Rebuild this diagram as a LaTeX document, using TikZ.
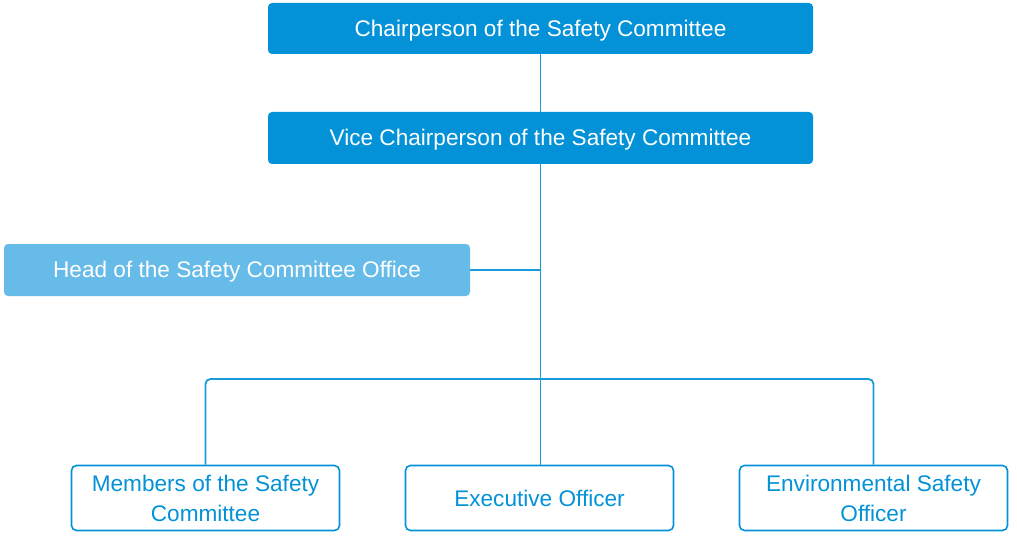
\documentclass[tikz,border=0pt]{standalone}
\usepackage{fontspec}
\setmainfont{Liberation Sans}
\definecolor{dblue}{HTML}{0392D8}
\definecolor{lblue}{HTML}{66BBE8}
\definecolor{lineblue}{HTML}{1A9AD9}
\begin{document}
\begin{tikzpicture}[x=1pt,y=-1pt,
  topbox/.style={fill=dblue,draw=none,rounded corners=4pt,text=white,font=\fontsize{22.6}{26}\selectfont,inner sep=0pt,text height=20pt,text depth=4.2pt},
  headbox/.style={fill=lblue,draw=none,rounded corners=4pt,text=white,font=\fontsize{22.6}{26}\selectfont,inner sep=0pt,text height=20pt,text depth=4.2pt},
  botbox/.style={draw=dblue,line width=1.6pt,fill=white,rounded corners=5pt,text=dblue,font=\fontsize{22.6}{30}\selectfont,align=center,inner sep=0pt},
  conn/.style={draw=lineblue,line width=1.8pt}]
\useasboundingbox (0,0) rectangle (1017,540);
\node[topbox,minimum width=545pt,minimum height=51pt] (chair) at (540.5,28.5) {Chairperson of the Safety Committee};
\node[topbox,minimum width=545pt,minimum height=52pt] (vice) at (540.5,138) {Vice Chairperson of the Safety Committee};
\node[headbox,minimum width=466pt,minimum height=52pt] (head) at (237,270) {Head of the Safety Committee Office};
\node[botbox,minimum width=268pt,minimum height=65pt] (mem) at (205.5,498) {Members of the Safety\\Committee};
\node[botbox,minimum width=268pt,minimum height=65pt] (exec) at (539.5,498) {Executive Officer};
\node[botbox,minimum width=268pt,minimum height=65pt] (env) at (873.5,498) {Environmental Safety\\Officer};
\coordinate (bus) at (540.5,379);
\coordinate (hj) at (540.5,270);
\draw[conn] (chair.south) -- (vice.north);
\draw[conn] (vice.south) -- (vice.south |- exec.north);
\draw[conn] (head.east) -- (hj);
\draw[conn,rounded corners=5pt] (mem.north) |- (bus) -| (env.north);
\end{tikzpicture}
\end{document}
